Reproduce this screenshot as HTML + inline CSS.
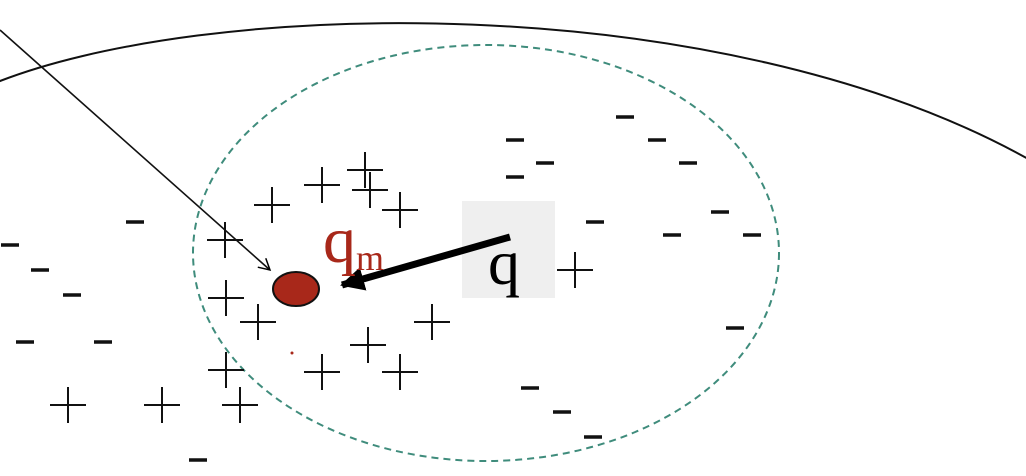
<!DOCTYPE html>
<html><head><meta charset="utf-8">
<style>
html,body{margin:0;padding:0;background:#fff;}
svg{display:block;}
</style></head>
<body>
<svg id="chart" width="1026" height="476" viewBox="0 0 1026 476" xmlns="http://www.w3.org/2000/svg">
  <defs>
    <marker id="openArrow" markerWidth="14" markerHeight="14" refX="12" refY="7" orient="auto" markerUnits="userSpaceOnUse">
      <path d="M1,1 L12,7 L1,13" fill="none" stroke="#000" stroke-width="1.5"/>
    </marker>
    <marker id="solidArrow" markerWidth="26" markerHeight="24" refX="22" refY="12" orient="auto" markerUnits="userSpaceOnUse">
      <path d="M0,0 L24,12 L0,24 Z" fill="#000"/>
    </marker>
  </defs>
  <path d="M -10 85 C 200 -2, 720 -14, 1030 160" fill="none" stroke="#111" stroke-width="2"/>
  <ellipse cx="486" cy="253" rx="293" ry="208" fill="none" stroke="#3f8c7c" stroke-width="2" stroke-dasharray="7,5"/>
  <rect x="462" y="201" width="93" height="97" fill="#efefef"/>
  <g id="marks"></g>
  <line x1="0" y1="30" x2="270" y2="270" stroke="#111" stroke-width="1.6" marker-end="url(#openArrow)"/>
  <line x1="510" y1="237" x2="342" y2="285" stroke="#000" stroke-width="7" marker-end="url(#solidArrow)"/>
  <ellipse cx="296" cy="289" rx="23" ry="17" fill="#a8281a" stroke="#111" stroke-width="2"/>
  <circle cx="292" cy="353" r="1.5" fill="#a8281a"/>
  <text x="323" y="262" font-family="Liberation Serif, serif" font-size="66" fill="#a8281a">q<tspan font-size="36" dy="8">m</tspan></text>
  <text x="488" y="284" font-family="Liberation Serif, serif" font-size="64" fill="#000">q</text>
</svg>
<script>
const plusPts = [[365,170],[322,185],[370,190],[272,205],[400,210],[225,240],[575,270],[226,298],[258,322],[432,322],[368,345],[226,370],[322,372],[400,372],[68,405],[162,405],[240,405]];
const minusPts = [[625,117],[515,140],[657,140],[545,163],[688,163],[515,177],[135,222],[595,222],[720,212],[672,235],[752,235],[10,245],[40,270],[72,295],[735,328],[25,342],[103,342],[530,388],[562,412],[593,437],[198,460]];
const NS = "http://www.w3.org/2000/svg";
const g = document.getElementById('marks');
plusPts.forEach(function(p){
  const grp = document.createElementNS(NS,'g');
  
  
  const h = document.createElementNS(NS,'line');
  h.setAttribute('x1', p[0]-18); h.setAttribute('x2', p[0]+18);
  h.setAttribute('y1', p[1]); h.setAttribute('y2', p[1]);
  h.setAttribute('stroke','#111'); h.setAttribute('stroke-width','2');
  const v = document.createElementNS(NS,'line');
  v.setAttribute('x1', p[0]); v.setAttribute('x2', p[0]);
  v.setAttribute('y1', p[1]-18); v.setAttribute('y2', p[1]+18);
  v.setAttribute('stroke','#111'); v.setAttribute('stroke-width','2');
  grp.appendChild(h); grp.appendChild(v); g.appendChild(grp);
});
minusPts.forEach(function(p){
  const l = document.createElementNS(NS,'line');
  
  
  l.setAttribute('x1', p[0]-9); l.setAttribute('x2', p[0]+9);
  l.setAttribute('y1', p[1]); l.setAttribute('y2', p[1]);
  l.setAttribute('stroke','#111'); l.setAttribute('stroke-width','3.5');
  g.appendChild(l);
});
</script>
</body></html>
